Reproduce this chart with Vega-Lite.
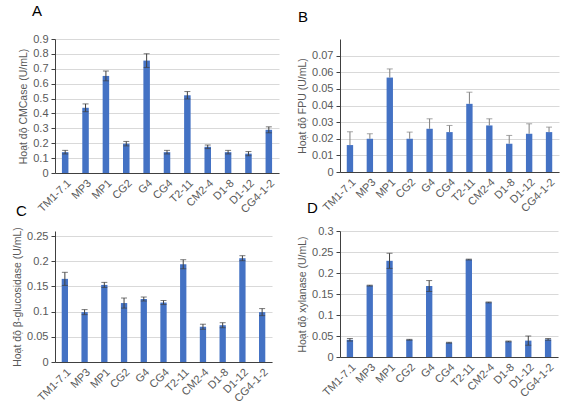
{
  "$schema": "https://vega.github.io/schema/vega-lite/v6.json",
  "background": "white",
  "padding": {"left": 12, "top": 4, "right": 4, "bottom": 2},
  "datasets": {
    "d": [
      {"p": "A", "s": "TM1-7.1", "v": 0.14, "lo": 0.128, "hi": 0.152},
      {"p": "A", "s": "MP3", "v": 0.438, "lo": 0.412, "hi": 0.464},
      {"p": "A", "s": "MP1", "v": 0.652, "lo": 0.619, "hi": 0.685},
      {"p": "A", "s": "CG2", "v": 0.197, "lo": 0.182, "hi": 0.212},
      {"p": "A", "s": "G4", "v": 0.755, "lo": 0.709, "hi": 0.801},
      {"p": "A", "s": "CG4", "v": 0.14, "lo": 0.128, "hi": 0.152},
      {"p": "A", "s": "T2-11", "v": 0.522, "lo": 0.497, "hi": 0.547},
      {"p": "A", "s": "CM2-4", "v": 0.176, "lo": 0.164, "hi": 0.188},
      {"p": "A", "s": "D1-8", "v": 0.14, "lo": 0.128, "hi": 0.152},
      {"p": "A", "s": "D1-12", "v": 0.13, "lo": 0.116, "hi": 0.144},
      {"p": "A", "s": "CG4-1-2", "v": 0.29, "lo": 0.27, "hi": 0.31},
      {"p": "B", "s": "TM1-7.1", "v": 0.0162, "lo": 0.0082, "hi": 0.0242},
      {"p": "B", "s": "MP3", "v": 0.020, "lo": 0.017, "hi": 0.023},
      {"p": "B", "s": "MP1", "v": 0.0568, "lo": 0.0516, "hi": 0.062},
      {"p": "B", "s": "CG2", "v": 0.020, "lo": 0.016, "hi": 0.024},
      {"p": "B", "s": "G4", "v": 0.026, "lo": 0.020, "hi": 0.032},
      {"p": "B", "s": "CG4", "v": 0.024, "lo": 0.020, "hi": 0.028},
      {"p": "B", "s": "T2-11", "v": 0.041, "lo": 0.034, "hi": 0.048},
      {"p": "B", "s": "CM2-4", "v": 0.028, "lo": 0.024, "hi": 0.032},
      {"p": "B", "s": "D1-8", "v": 0.017, "lo": 0.012, "hi": 0.022},
      {"p": "B", "s": "D1-12", "v": 0.023, "lo": 0.017, "hi": 0.029},
      {"p": "B", "s": "CG4-1-2", "v": 0.024, "lo": 0.021, "hi": 0.027},
      {"p": "C", "s": "TM1-7.1", "v": 0.165, "lo": 0.152, "hi": 0.178},
      {"p": "C", "s": "MP3", "v": 0.099, "lo": 0.094, "hi": 0.104},
      {"p": "C", "s": "MP1", "v": 0.153, "lo": 0.148, "hi": 0.158},
      {"p": "C", "s": "CG2", "v": 0.117, "lo": 0.107, "hi": 0.127},
      {"p": "C", "s": "G4", "v": 0.125, "lo": 0.121, "hi": 0.129},
      {"p": "C", "s": "CG4", "v": 0.118, "lo": 0.114, "hi": 0.122},
      {"p": "C", "s": "T2-11", "v": 0.194, "lo": 0.185, "hi": 0.203},
      {"p": "C", "s": "CM2-4", "v": 0.070, "lo": 0.065, "hi": 0.075},
      {"p": "C", "s": "D1-8", "v": 0.073, "lo": 0.068, "hi": 0.078},
      {"p": "C", "s": "D1-12", "v": 0.206, "lo": 0.201, "hi": 0.211},
      {"p": "C", "s": "CG4-1-2", "v": 0.099, "lo": 0.092, "hi": 0.106},
      {"p": "D", "s": "TM1-7.1", "v": 0.041, "lo": 0.038, "hi": 0.044},
      {"p": "D", "s": "MP3", "v": 0.17, "lo": 0.169, "hi": 0.171},
      {"p": "D", "s": "MP1", "v": 0.229, "lo": 0.211, "hi": 0.247},
      {"p": "D", "s": "CG2", "v": 0.041, "lo": 0.040, "hi": 0.042},
      {"p": "D", "s": "G4", "v": 0.169, "lo": 0.156, "hi": 0.182},
      {"p": "D", "s": "CG4", "v": 0.034, "lo": 0.033, "hi": 0.035},
      {"p": "D", "s": "T2-11", "v": 0.232, "lo": 0.231, "hi": 0.233},
      {"p": "D", "s": "CM2-4", "v": 0.13, "lo": 0.129, "hi": 0.131},
      {"p": "D", "s": "D1-8", "v": 0.037, "lo": 0.036, "hi": 0.038},
      {"p": "D", "s": "D1-12", "v": 0.039, "lo": 0.028, "hi": 0.050},
      {"p": "D", "s": "CG4-1-2", "v": 0.042, "lo": 0.040, "hi": 0.044}
    ]
  },
  "data": {"name": "d"},
  "columns": 2,
  "bounds": "flush",
  "spacing": {"column": 61, "row": 58},
  "concat": [
    {
      "width": 224, "height": 134,
      "title": {"text": "A", "dx": -23, "offset": 14},
      "transform": [{"filter": "datum.p === 'A'"}],
      "encoding": {
        "x": {"field": "s", "type": "nominal", "sort": null, "title": null, "scale": {"paddingInner": 0.68, "paddingOuter": 0.34}}
      },
      "layer": [
        {"mark": {"type": "bar", "color": "#4472C4"},
         "encoding": {"y": {"field": "v", "type": "quantitative", "title": "Hoạt độ CMCase (U/mL)", "scale": {"domain": [0, 0.9]}, "axis": {"values": [0, 0.1, 0.2, 0.3, 0.4, 0.5, 0.6, 0.7, 0.8, 0.9], "format": "~g"}}}},
        {"mark": {"type": "rule", "color": "#404040"},
         "encoding": {"y": {"field": "lo", "type": "quantitative", "title": "Hoạt độ CMCase (U/mL)", "axis": {"values": [0, 0.1, 0.2, 0.3, 0.4, 0.5, 0.6, 0.7, 0.8, 0.9], "format": "~g"}}, "y2": {"field": "hi"}}},
        {"mark": {"type": "tick", "color": "#404040", "size": 6, "thickness": 1},
         "encoding": {"y": {"field": "hi", "type": "quantitative", "title": "Hoạt độ CMCase (U/mL)", "axis": {"values": [0, 0.1, 0.2, 0.3, 0.4, 0.5, 0.6, 0.7, 0.8, 0.9], "format": "~g"}}}},
        {"mark": {"type": "tick", "color": "#404040", "size": 6, "thickness": 1},
         "encoding": {"y": {"field": "lo", "type": "quantitative", "title": "Hoạt độ CMCase (U/mL)", "axis": {"values": [0, 0.1, 0.2, 0.3, 0.4, 0.5, 0.6, 0.7, 0.8, 0.9], "format": "~g"}}}}
      ]
    },
    {
      "width": 219, "height": 133,
      "title": {"text": "B", "dx": -42, "offset": 14},
      "transform": [{"filter": "datum.p === 'B'"}],
      "encoding": {
        "x": {"field": "s", "type": "nominal", "sort": null, "title": null, "scale": {"paddingInner": 0.68, "paddingOuter": 0.34}}
      },
      "layer": [
        {"mark": {"type": "bar", "color": "#4472C4"},
         "encoding": {"y": {"field": "v", "type": "quantitative", "title": "Hoạt độ FPU (U/mL)", "scale": {"domain": [0, 0.07]}, "axis": {"values": [0, 0.01, 0.02, 0.03, 0.04, 0.05, 0.06, 0.07], "format": "~g"}}}},
        {"mark": {"type": "rule", "color": "#7F7F7F"},
         "encoding": {"y": {"field": "v", "type": "quantitative", "title": "Hoạt độ FPU (U/mL)", "axis": {"values": [0, 0.01, 0.02, 0.03, 0.04, 0.05, 0.06, 0.07], "format": "~g"}}, "y2": {"field": "hi"}}},
        {"mark": {"type": "tick", "color": "#7F7F7F", "size": 6, "thickness": 1},
         "encoding": {"y": {"field": "hi", "type": "quantitative", "title": "Hoạt độ FPU (U/mL)", "axis": {"values": [0, 0.01, 0.02, 0.03, 0.04, 0.05, 0.06, 0.07], "format": "~g"}}}}
      ]
    },
    {
      "width": 217, "height": 131,
      "title": {"text": "C", "dx": -39, "offset": 8},
      "transform": [{"filter": "datum.p === 'C'"}],
      "encoding": {
        "x": {"field": "s", "type": "nominal", "sort": null, "title": null, "scale": {"paddingInner": 0.68, "paddingOuter": 0.34}}
      },
      "layer": [
        {"mark": {"type": "bar", "color": "#4472C4"},
         "encoding": {"y": {"field": "v", "type": "quantitative", "title": "Hoạt độ β-glucosidase (U/mL)", "scale": {"domain": [0, 0.25]}, "axis": {"values": [0, 0.05, 0.1, 0.15, 0.2, 0.25], "format": "~g"}}}},
        {"mark": {"type": "rule", "color": "#404040"},
         "encoding": {"y": {"field": "lo", "type": "quantitative", "title": "Hoạt độ β-glucosidase (U/mL)", "axis": {"values": [0, 0.05, 0.1, 0.15, 0.2, 0.25], "format": "~g"}}, "y2": {"field": "hi"}}},
        {"mark": {"type": "tick", "color": "#404040", "size": 6, "thickness": 1},
         "encoding": {"y": {"field": "hi", "type": "quantitative", "title": "Hoạt độ β-glucosidase (U/mL)", "axis": {"values": [0, 0.05, 0.1, 0.15, 0.2, 0.25], "format": "~g"}}}},
        {"mark": {"type": "tick", "color": "#404040", "size": 6, "thickness": 1},
         "encoding": {"y": {"field": "lo", "type": "quantitative", "title": "Hoạt độ β-glucosidase (U/mL)", "axis": {"values": [0, 0.05, 0.1, 0.15, 0.2, 0.25], "format": "~g"}}}}
      ]
    },
    {
      "width": 218, "height": 126,
      "title": {"text": "D", "dx": -33, "offset": 9},
      "transform": [{"filter": "datum.p === 'D'"}],
      "encoding": {
        "x": {"field": "s", "type": "nominal", "sort": null, "title": null, "scale": {"paddingInner": 0.68, "paddingOuter": 0.34}}
      },
      "layer": [
        {"mark": {"type": "bar", "color": "#4472C4"},
         "encoding": {"y": {"field": "v", "type": "quantitative", "title": "Hoạt độ xylanase (U/mL)", "scale": {"domain": [0, 0.3]}, "axis": {"values": [0, 0.05, 0.1, 0.15, 0.2, 0.25, 0.3], "format": "~g"}}}},
        {"mark": {"type": "rule", "color": "#404040"},
         "encoding": {"y": {"field": "lo", "type": "quantitative", "title": "Hoạt độ xylanase (U/mL)", "axis": {"values": [0, 0.05, 0.1, 0.15, 0.2, 0.25, 0.3], "format": "~g"}}, "y2": {"field": "hi"}}},
        {"mark": {"type": "tick", "color": "#404040", "size": 6, "thickness": 1},
         "encoding": {"y": {"field": "hi", "type": "quantitative", "title": "Hoạt độ xylanase (U/mL)", "axis": {"values": [0, 0.05, 0.1, 0.15, 0.2, 0.25, 0.3], "format": "~g"}}}},
        {"mark": {"type": "tick", "color": "#404040", "size": 6, "thickness": 1},
         "encoding": {"y": {"field": "lo", "type": "quantitative", "title": "Hoạt độ xylanase (U/mL)", "axis": {"values": [0, 0.05, 0.1, 0.15, 0.2, 0.25, 0.3], "format": "~g"}}}}
      ]
    }
  ],
  "config": {
    "view": {"stroke": null},
    "font": "Liberation Sans",
    "title": {"font": "Liberation Sans", "fontSize": 15, "fontWeight": "normal", "color": "#000000", "anchor": "start", "frame": "group"},
    "axis": {"labelFont": "Liberation Sans", "labelFontSize": 11, "labelColor": "#595959", "titleFont": "Liberation Sans", "titleFontSize": 10.5, "titleFontWeight": "normal", "titleColor": "#595959", "gridColor": "#D9D9D9", "domainColor": "#404040", "tickColor": "#404040"},
    "axisX": {"grid": false, "labelAngle": -45, "ticks": false, "labelPadding": 4},
    "axisY": {"tickSize": 4, "labelPadding": 3, "titlePadding": 4}
  }
}
